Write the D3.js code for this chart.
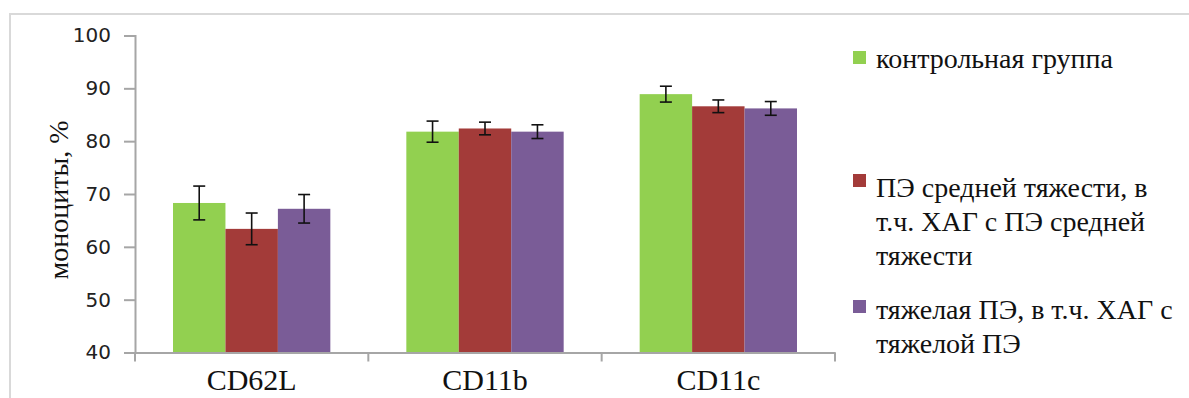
<!DOCTYPE html>
<html>
<head>
<meta charset="utf-8">
<script src="https://cdn.jsdelivr.net/npm/d3@7"></script>
<style>
  body { margin: 0; background: #fff; }
  svg { display: block; }
</style>
</head>
<body>
<div id="chart"></div>
<script>
// data
const categories = ["CD62L", "CD11b", "CD11c"];
const groups = ["контрольная группа", "ПЭ средней тяжести, в т.ч. ХАГ с ПЭ средней тяжести", "тяжелая ПЭ, в т.ч. ХАГ с тяжелой ПЭ"];
const control = [68.3, 81.8, 88.9];
const moderate = [63.4, 82.4, 86.6];
const severe = [67.2, 81.8, 86.2];
const controlErr = [3.2, 2.0, 1.5];
const moderateErr = [3.0, 1.2, 1.2];
const severeErr = [2.7, 1.3, 1.3];
const yTicks = [40, 50, 60, 70, 80, 90, 100];
const legendLines = [["контрольная группа"], ["ПЭ средней тяжести, в", "т.ч. ХАГ с ПЭ средней", "тяжести"], ["тяжелая ПЭ, в т.ч. ХАГ с", "тяжелой ПЭ"]];
const colors = ["#92d050", "#a33b39", "#7a5c97"];

const SERIF = "Liberation Serif";
const W = 1189, H = 398;
const margin = {top: 35.5, left: 135, right: 354, bottom: 45.5};
const width = W - margin.left - margin.right,
  height = H - margin.top - margin.bottom;

const svg = d3.select("#chart").append("svg")
  .attr("width", W).attr("height", H);

// outer chart border
svg.append("rect")
  .attr("x", 10).attr("y", 14)
  .attr("width", 1200).attr("height", 420)
  .attr("fill", "none").attr("stroke", "#d9d9d9").attr("stroke-width", 2);

const g = svg.append("g").attr("transform", `translate(${margin.left},${margin.top})`);

const x = d3.scaleBand().domain(categories).range([0, width]).paddingInner(0).paddingOuter(0);
const x1 = d3.scaleBand().domain(d3.range(3)).range([38, x.bandwidth() - 38]);
const y = d3.scaleLinear().domain([40, 100]).range([height, 0]);

// y axis
const yAxis = g.append("g")
  .call(d3.axisLeft(y).tickValues(yTicks).tickSize(11).tickPadding(13));
yAxis.select(".domain").attr("stroke", "#a6a6a6").attr("stroke-width", 2);
yAxis.selectAll(".tick line").attr("stroke", "#a6a6a6").attr("stroke-width", 2);
yAxis.selectAll("text")
  .attr("font-family", "DejaVu Sans").attr("font-size", 20).attr("fill", "#222");

// y title
svg.append("text")
  .attr("transform", "translate(68,200) rotate(-90)")
  .attr("text-anchor", "middle")
  .attr("font-family", SERIF).attr("font-size", 28).attr("fill", "#111")
  .text("моноциты, %");

const series = [control, moderate, severe];
const errs = [controlErr, moderateErr, severeErr];
const rows = [];
categories.forEach((c, i) => {
  series.forEach((s, j) => rows.push({cat: c, k: j, v: s[i], e: errs[j][i]}));
});

// bars
g.selectAll(".bar").data(rows).enter().append("rect")
  .attr("x", d => x(d.cat) + x1(d.k))
  .attr("y", d => y(d.v))
  .attr("width", x1.bandwidth())
  .attr("height", d => height - y(d.v))
  .attr("fill", d => colors[d.k]);

// x axis
const xAxis = g.append("g")
  .attr("transform", `translate(0,${height})`)
  .call(d3.axisBottom(x).tickSize(0).tickPadding(16));
xAxis.select(".domain").attr("stroke", "#a6a6a6").attr("stroke-width", 2);
xAxis.selectAll("text")
  .attr("font-family", SERIF)
  .attr("font-size", 30).attr("fill", "#111");
// category boundary ticks
xAxis.selectAll(".sep").data(d3.range(categories.length + 1)).enter().append("line")
  .attr("x1", i => i * x.bandwidth()).attr("x2", i => i * x.bandwidth())
  .attr("y1", 0).attr("y2", 9)
  .attr("stroke", "#a6a6a6").attr("stroke-width", 2);

// error bars
const eb = g.selectAll(".err").data(rows).enter().append("g")
  .attr("stroke", "#111").attr("stroke-width", 1.6);
const cx = d => x(d.cat) + x1(d.k) + x1.bandwidth() / 2;
eb.append("line").attr("x1", cx).attr("x2", cx)
  .attr("y1", d => y(d.v + d.e)).attr("y2", d => y(d.v - d.e));
eb.append("line").attr("x1", d => cx(d) - 6).attr("x2", d => cx(d) + 6)
  .attr("y1", d => y(d.v + d.e)).attr("y2", d => y(d.v + d.e));
eb.append("line").attr("x1", d => cx(d) - 6).attr("x2", d => cx(d) + 6)
  .attr("y1", d => y(d.v - d.e)).attr("y2", d => y(d.v - d.e));

// legend
const legendBase = [68, 197, 319];
const swatchTop = [51, 174, 300];
const leg = svg.append("g");
groups.forEach((name, i) => {
  leg.append("rect").attr("x", 853).attr("y", swatchTop[i])
    .attr("width", 13).attr("height", 13).attr("fill", colors[i]);
  const t = leg.append("text")
    .attr("x", 876).attr("y", legendBase[i])
    .attr("font-family", SERIF).attr("font-size", 28).attr("fill", "#111");
  legendLines[i].forEach((line, k) => {
    t.append("tspan").attr("x", 876).attr("dy", k === 0 ? 0 : 34).text(line);
  });
});
</script>
</body>
</html>
